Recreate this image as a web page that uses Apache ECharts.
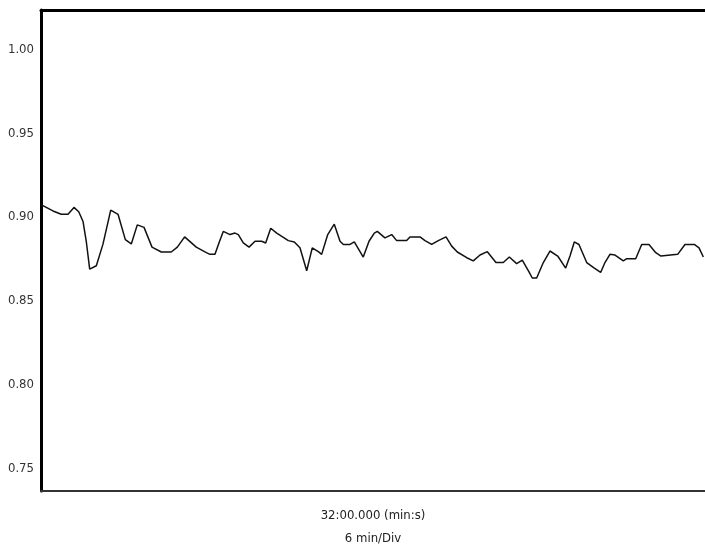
<!DOCTYPE html>
<html>
<head>
<meta charset="utf-8">
<script src="https://cdn.jsdelivr.net/npm/echarts@6/dist/echarts.min.js"></script>
<style>
html,body{margin:0;padding:0;background:#fff;}
#chart{width:705px;height:555px;}
</style>
</head>
<body>
<div id="chart"></div>
<script>
// time in minutes (axis spans 2:00 .. 62:00, centred on 32:00, 6 min/Div)
var times = [2.0,3.08,3.83,4.44,4.98,5.41,5.80,6.09,6.40,7.00,7.60,8.30,8.96,9.62,10.16,10.70,11.31,12.03,12.87,13.77,14.32,14.98,16.03,16.94,17.27,17.72,18.08,18.47,19.08,19.53,19.83,20.28,20.80,21.34,21.94,22.30,22.76,23.30,23.90,24.35,24.89,25.40,26.01,26.51,27.06,27.36,27.91,28.50,29.02,29.32,29.92,30.31,31.12,31.64,32.12,32.39,33.08,33.69,34.14,35.04,35.34,36.25,36.70,37.30,37.90,38.60,39.11,39.62,40.47,41.06,41.67,42.33,43.11,43.77,44.32,44.98,45.49,46.12,46.39,46.79,47.39,47.99,48.69,49.41,49.80,50.19,50.61,51.31,52.00,52.57,52.96,53.41,53.87,54.62,54.93,55.74,56.28,56.94,57.55,58.02,59.53,60.19,61.03,61.46,61.85];
var values = [0.9074,0.9036,0.9016,0.9016,0.9057,0.9031,0.8973,0.8855,0.8689,0.8709,0.8838,0.9041,0.9016,0.8865,0.8839,0.8953,0.8938,0.8820,0.8791,0.8791,0.8820,0.8881,0.8820,0.8787,0.8777,0.8777,0.8845,0.8914,0.8895,0.8904,0.8895,0.8845,0.8820,0.8855,0.8855,0.8845,0.8933,0.8904,0.8879,0.8859,0.8851,0.8816,0.8679,0.8816,0.8793,0.8777,0.8895,0.8957,0.8855,0.8836,0.8836,0.8851,0.8761,0.8855,0.8904,0.8914,0.8875,0.8895,0.8859,0.8859,0.8881,0.8881,0.8859,0.8836,0.8859,0.8881,0.8826,0.8791,0.8757,0.8738,0.8773,0.8793,0.8728,0.8728,0.8761,0.8722,0.8742,0.8669,0.8636,0.8636,0.8728,0.8797,0.8767,0.8695,0.8767,0.8851,0.8836,0.8728,0.8695,0.8669,0.8728,0.8777,0.8773,0.8738,0.8751,0.8751,0.8836,0.8836,0.8787,0.8767,0.8777,0.8836,0.8836,0.8816,0.8761];
var yTicks = [0.75,0.80,0.85,0.90,0.95,1.00];
var xTitle = "32:00.000 (min:s)\n6 min/Div";

var FONT = '"Liberation Sans Narrow","Arial Narrow","DejaVu Sans Condensed",sans-serif';
var data = times.map(function(t,i){return [t, values[i]];});

var chart = echarts.init(document.getElementById('chart'), null, {renderer:'canvas'});
chart.setOption({
  animation:false,
  backgroundColor:'#ffffff',
  grid:{left:41,right:0,top:10,bottom:56,containLabel:false},
  xAxis:[{
    type:'value', min:2, max:62, position:'bottom',
    axisLine:{show:true,onZero:false,lineStyle:{color:'#333',width:2}},
    axisTick:{show:false}, axisLabel:{show:false}, splitLine:{show:false},
    name:xTitle, nameLocation:'middle', nameGap:13,
    nameTextStyle:{fontFamily:FONT,fontSize:13,color:'#222',lineHeight:23,verticalAlign:'top'}
  },{
    type:'value', min:2, max:62, position:'top',
    axisLine:{show:true,onZero:false,lineStyle:{color:'#000',width:3}},
    axisTick:{show:false}, axisLabel:{show:false}, splitLine:{show:false}
  }],
  yAxis:{
    type:'value', min:0.7365, max:1.0235,
    axisLine:{show:true,onZero:false,lineStyle:{color:'#000',width:3}},
    axisTick:{show:false}, splitLine:{show:false},
    axisLabel:{
      show:true, margin:7, showMinLabel:false, showMaxLabel:false,
      fontFamily:FONT, fontSize:13, color:'#333',
      formatter:function(v){
        for (var i=0;i<yTicks.length;i++){ if (Math.abs(v-yTicks[i])<1e-6) return yTicks[i].toFixed(2); }
        return '';
      }
    }
  },
  series:[{
    type:'line', data:data, showSymbol:false, symbol:'none',
    lineStyle:{color:'#111',width:1.5}, xAxisIndex:0
  }]
});
</script>
</body>
</html>
